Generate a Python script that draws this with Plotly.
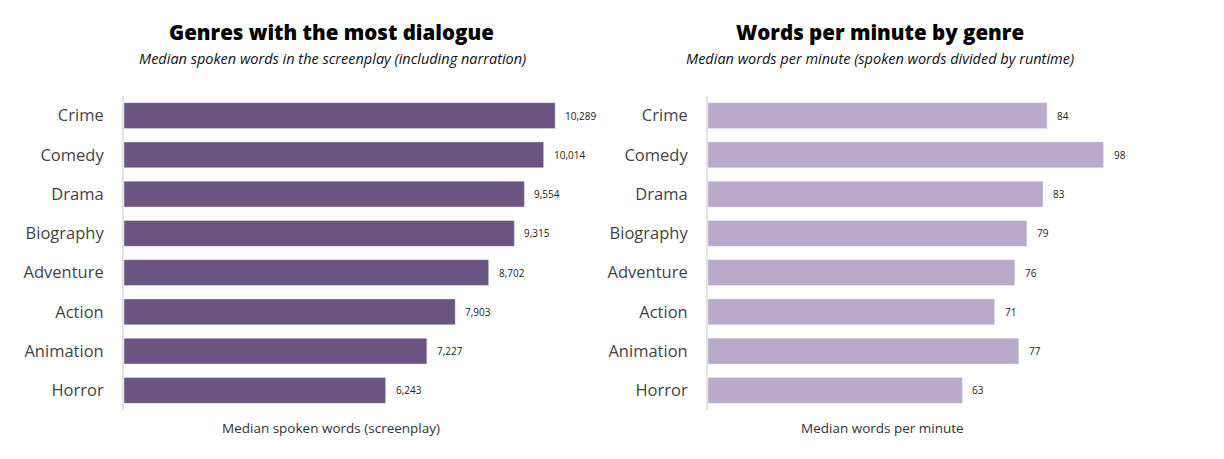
import plotly.graph_objects as go

genres = ["Crime", "Comedy", "Drama", "Biography", "Adventure", "Action", "Animation", "Horror"]
words = [10289, 10014, 9554, 9315, 8702, 7903, 7227, 6243]
wpm = [84, 98, 83, 79, 76, 71, 77, 63]

OFF = 8  # page body margin
W, H = 1224 - 2 * OFF, 459 - 2 * OFF
FONT = "Open Sans"

fig = go.Figure()
fig.add_trace(go.Bar(x=words, y=genres, orientation="h", marker_color="#6a5582",
                     width=0.66, xaxis="x", yaxis="y", hoverinfo="skip"))
fig.add_trace(go.Bar(x=wpm, y=genres, orientation="h", marker_color="#b9a9cb",
                     width=0.66, xaxis="x2", yaxis="y2", hoverinfo="skip"))

ann = []
for g, v in zip(genres, words):
    ann.append(dict(x=v, y=g, xref="x", yref="y", text=f"{v:,}", showarrow=False,
                    xanchor="left", xshift=8, font=dict(size=10, color="#222", family=FONT)))
for g, v in zip(genres, wpm):
    ann.append(dict(x=v, y=g, xref="x2", yref="y2", text=f"{v}", showarrow=False,
                    xanchor="left", xshift=8, font=dict(size=10, color="#222", family=FONT)))

def px_x(p):
    return (p - OFF) / W

def px_y(p):
    return 1 - (p - OFF) / H

titles = [
    (331, 32, "Genres with the most dialogue", 20.5, "#000", 800, "normal"),
    (332, 59, "Median spoken words in the screenplay (including narration)", 14.5, "#111", 400, "italic"),
    (880, 32, "Words per minute by genre", 20.5, "#000", 800, "normal"),
    (880, 59, "Median words per minute (spoken words divided by runtime)", 14.5, "#111", 400, "italic"),
    (331, 428, "Median spoken words (screenplay)", 13.5, "#333", 400, "normal"),
    (883, 428, "Median words per minute", 13.5, "#333", 400, "normal"),
]
for x, y, t, s, c, wgt, sty in titles:
    ann.append(dict(x=px_x(x), y=px_y(y), xref="paper", yref="paper", text=t, showarrow=False,
                    xanchor="center", yanchor="middle",
                    font=dict(size=s, color=c, family=FONT, weight=wgt, style=sty)))

yax = dict(autorange="reversed", showgrid=False, zeroline=False, showline=True,
           linecolor="#e3e3e3", linewidth=2, ticks="", ticklabelstandoff=15,
           tickfont=dict(size=16.5, color="#444", family=FONT),
           domain=[px_y(410), px_y(96)])

fig.update_layout(
    width=W, height=H,
    margin=dict(l=0, r=0, t=0, b=0),
    paper_bgcolor="white", plot_bgcolor="white",
    showlegend=False,
    font=dict(family=FONT),
    xaxis=dict(domain=[px_x(124), px_x(585)], range=[0, 11000], visible=False, anchor="y"),
    xaxis2=dict(domain=[px_x(708), px_x(1152)], range=[0, 110], visible=False, anchor="y2"),
    yaxis=dict(**yax, anchor="x"),
    yaxis2=dict(**yax, anchor="x2"),
    annotations=ann,
)

fig.write_html("out.html")
